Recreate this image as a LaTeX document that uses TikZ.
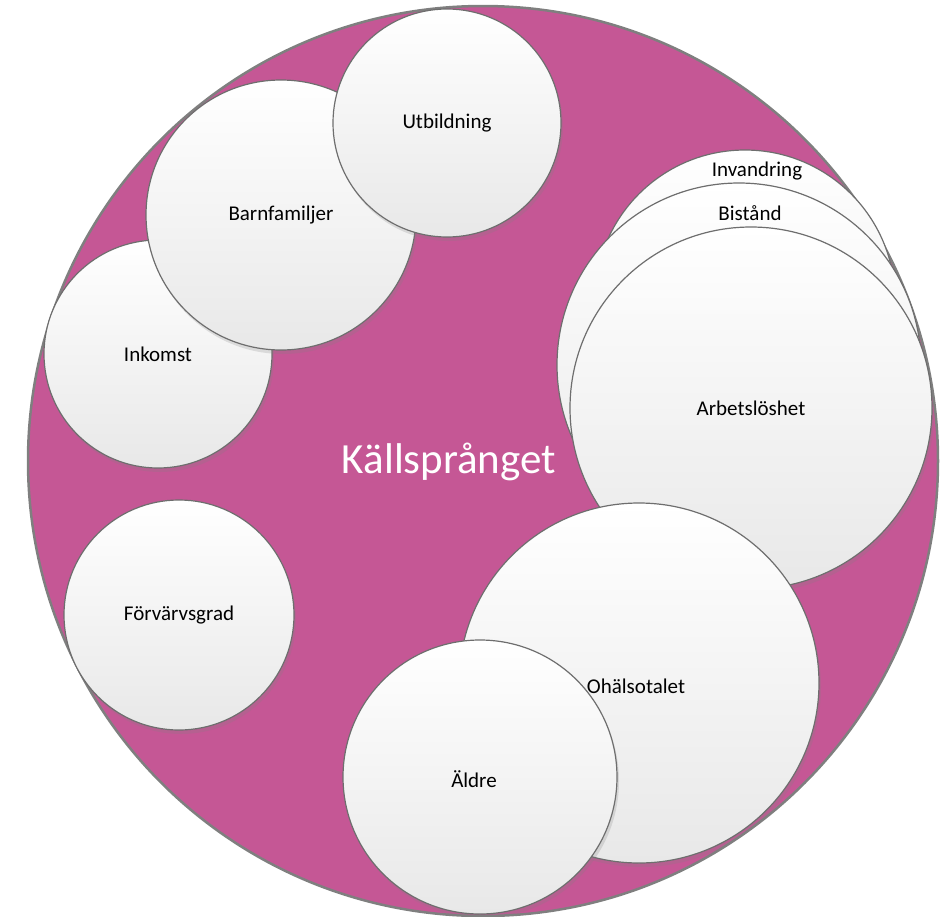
\documentclass[tikz,border=0pt]{standalone}
\usepackage{fontspec}
\setmainfont{Carlito}
\usetikzlibrary{shadows}
\definecolor{magentabg}{HTML}{C55795}
\definecolor{bigline}{HTML}{7F7F7F}
\definecolor{smallline}{HTML}{6E6E6E}
\tikzset{
  bigcircle/.style={circle, inner sep=0pt, fill=magentabg, draw=bigline, line width=2.5pt},
  bubble/.style={circle, inner sep=0pt, draw=smallline, line width=1.2pt,
    top color=white, bottom color=black!9,
    drop shadow={shadow xshift=2pt, shadow yshift=-4pt, opacity=0.22},
    font=\fontsize{21}{25}\selectfont, text=black},
  lbl/.style={inner sep=0pt, font=\fontsize{21}{25}\selectfont, text=black},
  title/.style={inner sep=0pt, font=\fontsize{43}{50}\selectfont, text=white}
}
\begin{document}
\begin{tikzpicture}[x=1pt,y=-1pt]
\useasboundingbox (0,0) rectangle (940,916);
\node[bigcircle, minimum size=910pt] (main) at (483,461) {};
\node[bubble, minimum size=230pt] (forv) at (179,615) {Förvärvsgrad};
\node[bubble, minimum size=228pt] (inkomst) at (158,354) {Inkomst};
\node[bubble, minimum size=270pt] (barn) at (281,215) {Barnfamiljer};
\node[bubble, minimum size=228pt] (utb) at (447,123) {Utbildning};
\node[bubble, minimum size=300pt] (invc) at (745,300) {};
\node[lbl] (invt) at (757,171) {Invandring};
\node[bubble, minimum size=364pt] (bistc) at (739,365) {};
\node[lbl] (bistt) at (750,213) {Bistånd};
\node[bubble, minimum size=362pt] (arb) at (751,408) {Arbetslöshet};
\node[bubble, minimum size=360pt] (ohc) at (639,683) {};
\node[lbl] (oht) at (636,686) {Ohälsotalet};
\node[bubble, minimum size=274pt] (aldc) at (480,777) {};
\node[lbl] (aldt) at (474,779) {Äldre};
\node[title] (kall) at (449,462) {Källsprånget};
\end{tikzpicture}
\end{document}
